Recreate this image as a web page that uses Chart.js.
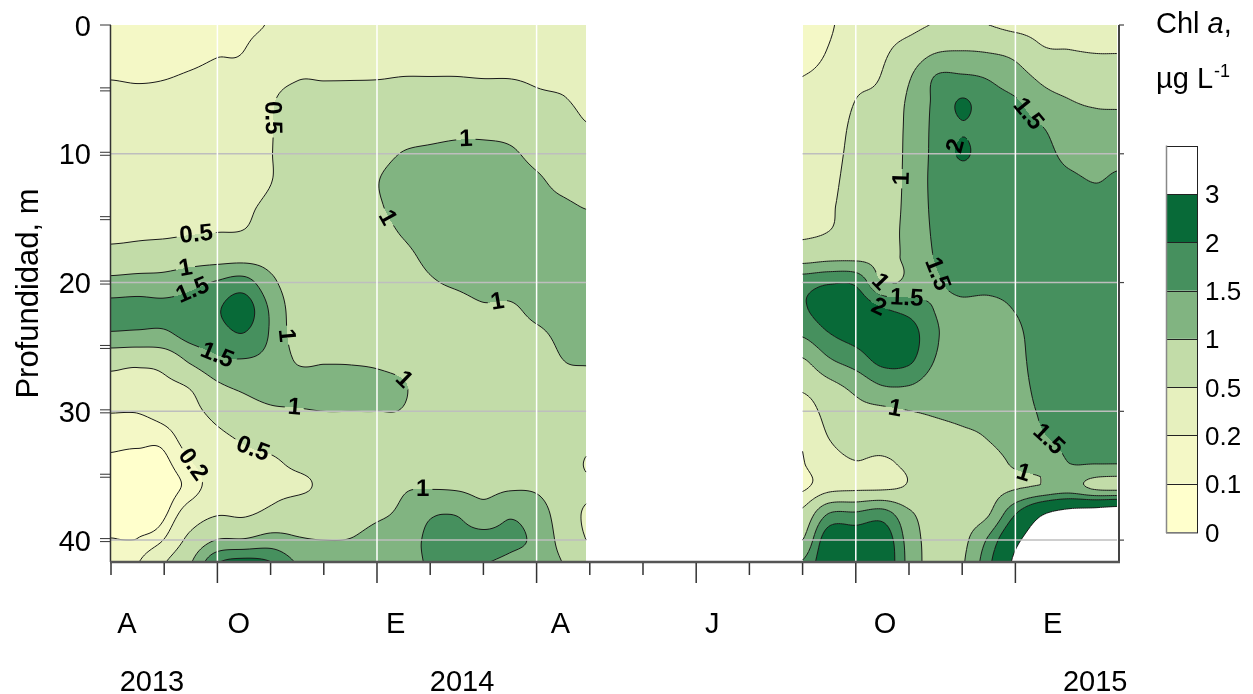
<!DOCTYPE html>
<html>
<head>
<meta charset="utf-8">
<script src="https://cdn.jsdelivr.net/npm/chart.js"></script>
<style>
  html, body { margin: 0; padding: 0; background: #ffffff; }
  #wrap { width: 1253px; height: 694px; position: relative; }
</style>
</head>
<body>
<div id="wrap"><canvas id="c" width="1253" height="694"></canvas></div>
<script>
// Sampling depths (m), shared by every profile
const depths = [0, 2, 4, 6, 8, 10, 12, 14, 16, 18, 20, 22, 24, 26, 28, 30, 32, 34, 36, 38, 40, 42];

// First campaign, Aug 2013 - Apr 2014 (months counted from 1 Aug 2013)
const months1 = [0, 0.5, 1, 1.5, 2, 2.5, 3, 3.5, 4, 4.5, 5, 5.5, 6, 6.5, 7, 7.5, 8, 8.5, 8.93];
// Chl a (µg/L), one profile per date, values at the depths above
const chl1 = [
  [0.15, 0.17, 0.195, 0.24, 0.29, 0.33, 0.38, 0.41, 0.44, 0.62, 1.15, 1.65, 1.45, 0.63, 0.43, 0.21, 0.13, 0.085, 0.06, 0.07, 0.105, 0.2],
  [0.14, 0.16, 0.19, 0.23, 0.28, 0.32, 0.37, 0.41, 0.45, 0.65, 1.2, 1.66, 1.42, 0.6, 0.42, 0.21, 0.13, 0.07, 0.05, 0.06, 0.105, 0.2],
  [0.14, 0.165, 0.195, 0.235, 0.28, 0.32, 0.37, 0.41, 0.44, 0.72, 1.2, 1.62, 1.42, 0.68, 0.42, 0.28, 0.14, 0.08, 0.06, 0.085, 0.21, 0.5],
  [0.14, 0.17, 0.21, 0.25, 0.29, 0.33, 0.37, 0.42, 0.47, 0.78, 1.35, 1.72, 1.68, 1.1, 0.55, 0.4, 0.3, 0.19, 0.14, 0.32, 0.62, 1.0],
  [0.16, 0.19, 0.23, 0.27, 0.31, 0.35, 0.39, 0.43, 0.49, 0.8, 1.55, 1.95, 1.8, 1.42, 0.93, 0.62, 0.43, 0.32, 0.3, 0.48, 1.02, 2.05],
  [0.18, 0.2, 0.25, 0.29, 0.33, 0.37, 0.41, 0.45, 0.51, 0.82, 1.7, 2.25, 1.98, 1.48, 1.1, 0.8, 0.55, 0.42, 0.38, 0.46, 1.05, 2.3],
  [0.22, 0.3, 0.42, 0.48, 0.485, 0.49, 0.49, 0.56, 0.68, 0.82, 1.12, 1.42, 1.45, 1.35, 1.2, 0.93, 0.65, 0.45, 0.42, 0.6, 1.2, 2.1],
  [0.42, 0.46, 0.49, 0.56, 0.6, 0.63, 0.66, 0.69, 0.72, 0.74, 0.76, 0.78, 0.8, 0.96, 1.15, 0.97, 0.75, 0.56, 0.45, 0.75, 1.05, 1.5],
  [0.42, 0.46, 0.49, 0.56, 0.6, 0.63, 0.66, 0.69, 0.72, 0.76, 0.8, 0.84, 0.88, 0.97, 1.15, 1.0, 0.8, 0.6, 0.55, 0.7, 1.0, 1.3],
  [0.42, 0.46, 0.49, 0.57, 0.62, 0.66, 0.7, 0.74, 0.76, 0.78, 0.8, 0.84, 0.88, 0.97, 1.12, 1.0, 0.82, 0.66, 0.62, 0.75, 1.02, 1.3],
  [0.42, 0.46, 0.49, 0.6, 0.72, 0.86, 0.98, 0.96, 0.9, 0.86, 0.82, 0.82, 0.86, 0.94, 1.1, 1.0, 0.85, 0.75, 0.75, 0.92, 1.2, 1.35],
  [0.42, 0.46, 0.5, 0.62, 0.8, 1.02, 1.12, 1.1, 1.03, 0.93, 0.85, 0.8, 0.8, 0.85, 1.03, 0.98, 0.85, 0.88, 0.97, 1.1, 1.25, 1.3],
  [0.42, 0.46, 0.5, 0.65, 0.85, 1.07, 1.15, 1.17, 1.14, 1.07, 0.97, 0.88, 0.82, 0.78, 0.76, 0.76, 0.8, 0.88, 0.99, 1.45, 1.6, 1.55],
  [0.42, 0.46, 0.5, 0.68, 0.9, 1.1, 1.18, 1.2, 1.2, 1.15, 1.04, 0.9, 0.82, 0.78, 0.76, 0.76, 0.8, 0.88, 0.97, 1.48, 1.62, 1.55],
  [0.42, 0.46, 0.49, 0.68, 0.9, 1.1, 1.18, 1.2, 1.2, 1.17, 1.1, 0.97, 0.86, 0.8, 0.77, 0.77, 0.8, 0.86, 0.9, 1.2, 1.65, 1.5],
  [0.42, 0.46, 0.49, 0.66, 0.86, 1.06, 1.16, 1.2, 1.22, 1.2, 1.12, 0.96, 0.88, 0.82, 0.78, 0.78, 0.8, 0.86, 0.97, 1.45, 1.58, 1.4],
  [0.42, 0.45, 0.47, 0.56, 0.72, 0.88, 1.05, 1.12, 1.16, 1.18, 1.16, 1.08, 0.95, 0.86, 0.8, 0.78, 0.78, 0.82, 0.95, 1.25, 1.4, 1.3],
  [0.4, 0.43, 0.46, 0.52, 0.62, 0.74, 0.88, 1.05, 1.12, 1.16, 1.16, 1.12, 1.06, 1.0, 0.9, 0.82, 0.78, 0.74, 0.72, 0.75, 0.82, 1.0],
  [0.38, 0.4, 0.43, 0.46, 0.52, 0.65, 0.8, 0.98, 1.08, 1.14, 1.16, 1.14, 1.1, 1.03, 0.88, 0.75, 0.62, 0.48, 0.56, 0.46, 0.5, 0.6]
];

// Second campaign, Sep 2014 - Feb 2015
const months2 = [13, 13.5, 14, 14.5, 15, 15.5, 16, 16.5, 17, 17.5, 18, 18.5, 18.91];
const chl2 = [
  [0.13, 0.16, 0.2, 0.24, 0.28, 0.32, 0.36, 0.4, 0.44, 0.76, 1.8, 1.95, 1.56, 0.96, 0.59, 0.3, 0.22, 0.19, 0.17, 0.62, 1.0, 1.6],
  [0.18, 0.21, 0.25, 0.29, 0.33, 0.37, 0.41, 0.45, 0.5, 0.85, 1.95, 2.3, 1.98, 1.45, 0.87, 0.65, 0.51, 0.4, 0.4, 1.55, 2.4, 2.5],
  [0.3, 0.36, 0.42, 0.51, 0.58, 0.62, 0.66, 0.7, 0.74, 0.88, 1.9, 2.35, 2.2, 1.75, 1.15, 0.85, 0.66, 0.49, 0.45, 1.6, 2.4, 2.5],
  [0.4, 0.45, 0.52, 0.62, 0.7, 0.76, 0.8, 0.84, 0.88, 0.92, 1.0, 2.02, 2.3, 2.15, 1.5, 0.9, 0.7, 0.45, 0.46, 1.75, 2.4, 2.5],
  [0.42, 0.65, 0.95, 1.08, 1.1, 1.1, 1.1, 1.1, 1.1, 1.08, 1.12, 1.8, 2.25, 2.1, 1.5, 0.99, 0.8, 0.58, 0.55, 1.1, 1.3, 1.35],
  [0.52, 0.95, 1.52, 1.6, 1.62, 1.64, 1.64, 1.62, 1.58, 1.53, 1.45, 1.48, 1.55, 1.48, 1.25, 1.05, 0.85, 0.75, 0.72, 0.76, 0.8, 0.8],
  [0.55, 1.0, 1.55, 2.05, 1.97, 2.05, 1.8, 1.75, 1.7, 1.65, 1.57, 1.45, 1.4, 1.35, 1.25, 1.1, 0.93, 0.8, 0.76, 0.8, 0.88, 0.95],
  [0.5, 0.96, 1.45, 1.7, 1.75, 1.75, 1.72, 1.7, 1.68, 1.65, 1.58, 1.42, 1.35, 1.3, 1.22, 1.12, 1.02, 0.88, 0.85, 0.98, 1.6, 1.9],
  [0.4, 0.85, 1.2, 1.56, 1.68, 1.72, 1.74, 1.74, 1.72, 1.68, 1.62, 1.52, 1.42, 1.38, 1.35, 1.3, 1.2, 1.05, 0.98, 2.0, 2.8, 3.2],
  [0.38, 0.55, 0.9, 1.2, 1.52, 1.65, 1.7, 1.72, 1.74, 1.74, 1.74, 1.72, 1.7, 1.68, 1.62, 1.55, 1.46, 1.2, 1.1, 2.95, 3.6, 3.8],
  [0.38, 0.51, 0.78, 1.03, 1.2, 1.38, 1.58, 1.7, 1.75, 1.76, 1.77, 1.77, 1.77, 1.76, 1.74, 1.7, 1.6, 1.5, 1.25, 3.4, 3.9, 4.0],
  [0.35, 0.48, 0.72, 0.95, 1.16, 1.33, 1.48, 1.62, 1.72, 1.76, 1.77, 1.78, 1.78, 1.77, 1.75, 1.7, 1.6, 1.52, 0.95, 3.6, 4.0, 4.0],
  [0.35, 0.48, 0.7, 0.93, 1.18, 1.38, 1.55, 1.65, 1.72, 1.75, 1.76, 1.77, 1.77, 1.76, 1.74, 1.7, 1.6, 1.52, 0.9, 3.8, 4.0, 4.0]
];

// Contour levels and the fill of each band [level i, level i+1)
const levels = [0, 0.1, 0.2, 0.5, 1, 1.5, 2, 3];
const bandColors = ['#FFFFCC', '#F4F8C6', '#E6F0BE', '#C2DCA8', '#81B481', '#46905E', '#086A38', '#FFFFFF'];
const levelLabels = ['0', '0.1', '0.2', '0.5', '1', '1.5', '2', '3'];

// Axis ticks and labels
const depthTicks = [0, 10, 20, 30, 40];
const depthMinorTicks = [5, 15, 25, 35];
const monthTicks = [0, 1, 2, 3, 4, 5, 6, 7, 8, 9, 10, 11, 12, 13, 14, 15, 16, 17];
const quarterTicks = [2, 5, 8, 11, 14, 17];
const monthLabels = ['A', 'O', 'E', 'A', 'J', 'O', 'E'];
const monthLabelAt = [0.3, 2.4, 5.35, 8.45, 11.3, 14.55, 17.7];
const yearLabels = ['2013', '2014', '2015'];
const yearLabelAt = [0.77, 6.6, 18.5];
const gridDepths = [10, 20, 30, 40];
const gridMonths = [2, 5, 8, 14, 17];

// Inline contour labels: level and the approximate (month, depth) where each sits
const contourTags = [
  { level: 0.5, m: 3.05, d: 7.2 }, { level: 1, m: 6.67, d: 8.8 }, { level: 1, m: 5.15, d: 15.1 },
  { level: 0.5, m: 1.6, d: 16.6 }, { level: 1, m: 1.4, d: 19.0 }, { level: 1.5, m: 1.55, d: 20.8 },
  { level: 1, m: 3.25, d: 24.1 }, { level: 1.5, m: 2.0, d: 25.6 }, { level: 1, m: 7.3, d: 21.6 },
  { level: 1, m: 5.55, d: 27.5 }, { level: 1, m: 3.45, d: 29.8 }, { level: 0.5, m: 2.67, d: 32.8 },
  { level: 0.2, m: 1.55, d: 34.2 }, { level: 1, m: 5.86, d: 36.3 },
  { level: 1.5, m: 17.27, d: 6.8 }, { level: 2, m: 15.7, d: 9.3 }, { level: 1, m: 14.7, d: 11.7 },
  { level: 1.5, m: 15.45, d: 19.4 }, { level: 1, m: 14.45, d: 20.0 }, { level: 2, m: 14.4, d: 22.1 },
  { level: 1.5, m: 14.9, d: 21.7 }, { level: 1, m: 14.74, d: 29.9 }, { level: 1.5, m: 17.52, d: 32.6 },
  { level: 1, m: 17.1, d: 35.2 }
];

const campaigns = [
  { months: months1, profiles: chl1 },
  { months: months2, profiles: chl2 }
];

const FONT = '"Liberation Sans", Arial, sans-serif';
const TAG_FONT = 'bold 24px ' + FONT;

function findCell(arr, v) {
  let i = 0;
  while (i < arr.length - 2 && v > arr[i + 1]) i++;
  return i;
}
function clamp01(t) { return t < 0 ? 0 : (t > 1 ? 1 : t); }
function catmull(p0, p1, p2, p3, t) {
  return 0.5 * (2 * p1 + (-p0 + p2) * t + (2 * p0 - 5 * p1 + 4 * p2 - p3) * t * t + (-p0 + 3 * p1 - 3 * p2 + p3) * t * t * t);
}
function campaignAt(m) {
  for (const c of campaigns) {
    if (m >= c.months[0] && m <= c.months[c.months.length - 1]) return c;
  }
  return null;
}
// Smooth interpolation of the profiles, kept within the range of the enclosing cell
function chlAt(c, m, d) {
  const M = c.months, P = c.profiles;
  const i = findCell(M, m), j = findCell(depths, d);
  const tx = clamp01((m - M[i]) / (M[i + 1] - M[i]));
  const ty = clamp01((d - depths[j]) / (depths[j + 1] - depths[j]));
  const nR = depths.length;
  const q = [];
  for (let a = -1; a <= 2; a++) {
    const prof = P[Math.max(0, Math.min(P.length - 1, i + a))];
    const r = k => prof[Math.max(0, Math.min(nR - 1, k))];
    q.push(catmull(r(j - 1), r(j), r(j + 1), r(j + 2), ty));
  }
  const v = catmull(q[0], q[1], q[2], q[3], tx);
  const c00 = P[i][j], c01 = P[i][j + 1], c10 = P[i + 1][j], c11 = P[i + 1][j + 1];
  const lo = Math.min(c00, c01, c10, c11), hi = Math.max(c00, c01, c10, c11);
  return Math.min(hi, Math.max(lo, v));
}
function bandIndex(v) {
  for (let i = levels.length - 1; i >= 0; i--) if (v >= levels[i]) return i;
  return 0;
}
function hexToRgb(h) {
  return [parseInt(h.slice(1, 3), 16), parseInt(h.slice(3, 5), 16), parseInt(h.slice(5, 7), 16)];
}

const EDGE_CASES = {
  1: [['L', 'B']], 2: [['B', 'R']], 3: [['L', 'R']], 4: [['T', 'R']], 5: [['L', 'T'], ['B', 'R']],
  6: [['T', 'B']], 7: [['L', 'T']], 8: [['L', 'T']], 9: [['T', 'B']], 10: [['T', 'R'], ['L', 'B']],
  11: [['T', 'R']], 12: [['L', 'R']], 13: [['B', 'R']], 14: [['L', 'B']]
};

const chlPlugin = {
  id: 'chlSection',
  afterDraw(chart) {
    const { ctx, chartArea: a, scales: { x, y } } = chart;
    const W = Math.round(a.right - a.left), H = Math.round(a.bottom - a.top);

    // ---- filled bands
    const off = document.createElement('canvas');
    off.width = W; off.height = H;
    const octx = off.getContext('2d');
    const img = octx.createImageData(W, H);
    const rgb = bandColors.map(hexToRgb);
    const rowD = [];
    for (let py = 0; py < H; py++) rowD.push(y.getValueForPixel(a.top + py + 0.5));
    for (let px = 0; px < W; px++) {
      const m = x.getValueForPixel(a.left + px + 0.5);
      const c = campaignAt(m);
      if (!c) continue;
      for (let py = 0; py < H; py++) {
        const col = rgb[bandIndex(chlAt(c, m, rowD[py]))];
        const k = (py * W + px) * 4;
        img.data[k] = col[0]; img.data[k + 1] = col[1]; img.data[k + 2] = col[2]; img.data[k + 3] = 255;
      }
    }
    octx.putImageData(img, 0, 0);
    ctx.drawImage(off, a.left, a.top);

    // ---- label placement on the contour of its level
    ctx.font = TAG_FONT;
    const placed = [];
    for (const tag of contourTags) {
      const c = campaignAt(tag.m);
      if (!c) continue;
      const mMin = c.months[0], mMax = c.months[c.months.length - 1];
      const f = (px, py) => {
        const m = Math.min(mMax, Math.max(mMin, x.getValueForPixel(px)));
        const d = Math.min(41.7, Math.max(0, y.getValueForPixel(py)));
        return chlAt(c, m, d) - tag.level;
      };
      const cx = x.getPixelForValue(tag.m), cy = y.getPixelForValue(tag.d);
      const R = 22;
      let best = null, bestDist = Infinity;
      for (let dy = -R; dy <= R; dy++) {
        for (let dx = -R; dx <= R; dx++) {
          const px = cx + dx, py = cy + dy;
          const v = f(px, py), vr = f(px + 1, py), vb = f(px, py + 1);
          if ((v >= 0) !== (vr >= 0) || (v >= 0) !== (vb >= 0)) {
            const dist = Math.hypot(dx, dy);
            if (dist < bestDist) { bestDist = dist; best = [px, py]; }
          }
        }
      }
      if (!best) continue;
      const [px, py] = best;
      const gx = f(px + 3, py) - f(px - 3, py), gy = f(px, py + 3) - f(px, py - 3);
      let ang = Math.atan2(gy, gx) + Math.PI / 2;
      while (ang >= Math.PI / 2) ang -= Math.PI;
      while (ang < -Math.PI / 2) ang += Math.PI;
      const text = String(tag.level);
      const w = ctx.measureText(text).width;
      placed.push({ px, py, ang, text, hw: w / 2 + 3, hh: 11 });
    }

    // ---- contour lines, broken where labels sit
    ctx.save();
    ctx.beginPath();
    ctx.rect(a.left, a.top, a.right - a.left, a.bottom - a.top);
    for (const p of placed) {
      const cs = Math.cos(p.ang), sn = Math.sin(p.ang);
      const pts = [[-p.hw, -p.hh], [p.hw, -p.hh], [p.hw, p.hh], [-p.hw, p.hh]].map(([u, v]) => [p.px + u * cs - v * sn, p.py + u * sn + v * cs]);
      ctx.moveTo(pts[0][0], pts[0][1]);
      for (let k = 1; k < 4; k++) ctx.lineTo(pts[k][0], pts[k][1]);
      ctx.closePath();
    }
    ctx.clip('evenodd');
    ctx.strokeStyle = '#1a1a1a';
    ctx.lineWidth = 1;
    const s = 2;
    for (const c of campaigns) {
      const M = c.months;
      const px0 = x.getPixelForValue(M[0]), px1 = x.getPixelForValue(M[M.length - 1]);
      const xs = [], ys = [];
      for (let p = px0; p < px1; p += s) xs.push(p);
      xs.push(px1);
      for (let p = a.top; p < a.bottom; p += s) ys.push(p);
      ys.push(a.bottom);
      const g = xs.map(px => {
        const m = Math.min(M[M.length - 1], Math.max(M[0], x.getValueForPixel(px)));
        return ys.map(py => chlAt(c, m, Math.min(41.7, Math.max(0, y.getValueForPixel(py)))));
      });
      for (let li = 1; li < levels.length; li++) {
        const L = levels[li];
        ctx.beginPath();
        for (let i = 0; i < xs.length - 1; i++) {
          for (let j = 0; j < ys.length - 1; j++) {
            const v0 = g[i][j], v1 = g[i + 1][j], v2 = g[i + 1][j + 1], v3 = g[i][j + 1];
            const idx = (v0 >= L ? 8 : 0) | (v1 >= L ? 4 : 0) | (v2 >= L ? 2 : 0) | (v3 >= L ? 1 : 0);
            if (idx === 0 || idx === 15) continue;
            const x0 = xs[i], x1 = xs[i + 1], y0 = ys[j], y1 = ys[j + 1];
            const pt = e => {
              if (e === 'T') return [x0 + (x1 - x0) * (L - v0) / (v1 - v0), y0];
              if (e === 'R') return [x1, y0 + (y1 - y0) * (L - v1) / (v2 - v1)];
              if (e === 'B') return [x0 + (x1 - x0) * (L - v3) / (v2 - v3), y1];
              return [x0, y0 + (y1 - y0) * (L - v0) / (v3 - v0)];
            };
            for (const [e1, e2] of EDGE_CASES[idx]) {
              const p1 = pt(e1), p2 = pt(e2);
              ctx.moveTo(p1[0], p1[1]);
              ctx.lineTo(p2[0], p2[1]);
            }
          }
        }
        ctx.stroke();
      }
    }
    ctx.restore();

    // ---- grid lines over the sampled blocks
    ctx.save();
    for (const c of campaigns) {
      const M = c.months;
      const px0 = x.getPixelForValue(M[0]), px1 = x.getPixelForValue(M[M.length - 1]);
      ctx.strokeStyle = '#BEBEBE';
      ctx.lineWidth = 1.5;
      for (const d of gridDepths) {
        const py = y.getPixelForValue(d);
        ctx.beginPath(); ctx.moveTo(px0, py); ctx.lineTo(px1, py); ctx.stroke();
      }
      ctx.strokeStyle = '#FFFFFF';
      for (const m of gridMonths) {
        if (m <= M[0] || m >= M[M.length - 1]) continue;
        const px = x.getPixelForValue(m);
        ctx.beginPath(); ctx.moveTo(px, a.top); ctx.lineTo(px, a.bottom); ctx.stroke();
      }
    }
    ctx.restore();

    // ---- contour labels
    ctx.save();
    ctx.fillStyle = '#000';
    ctx.font = TAG_FONT;
    ctx.textAlign = 'center';
    ctx.textBaseline = 'middle';
    for (const p of placed) {
      ctx.save();
      ctx.translate(p.px, p.py);
      ctx.rotate(p.ang);
      ctx.fillText(p.text, 0, 1);
      ctx.restore();
    }
    ctx.restore();

    // ---- axes
    ctx.save();
    const xL = x.getPixelForValue(0), xR = x.getPixelForValue(18.91);
    const yT = y.getPixelForValue(0), yB = y.getPixelForValue(41.7);
    // left axis
    ctx.strokeStyle = '#333';
    ctx.lineWidth = 1.5;
    ctx.beginPath(); ctx.moveTo(xL - 0.5, yT); ctx.lineTo(xL - 0.5, yB); ctx.stroke();
    ctx.lineWidth = 1;
    for (const d of depthTicks.concat(depthMinorTicks)) {
      const py = y.getPixelForValue(d);
      const offs = d === 0 ? [0] : [-1.5, 1.5];
      for (const o of offs) {
        ctx.beginPath(); ctx.moveTo(xL - 11, py + o); ctx.lineTo(xL, py + o); ctx.stroke();
      }
    }
    // right axis
    ctx.strokeStyle = '#444';
    ctx.lineWidth = 2;
    ctx.beginPath(); ctx.moveTo(xR + 2, yT); ctx.lineTo(xR + 2, yB + 1); ctx.stroke();
    ctx.lineWidth = 1.2;
    for (const d of depthTicks) {
      const py = y.getPixelForValue(d);
      ctx.beginPath(); ctx.moveTo(xR + 2, py); ctx.lineTo(xR + 7, py); ctx.stroke();
    }
    // bottom axis
    ctx.strokeStyle = '#555';
    ctx.lineWidth = 2.5;
    ctx.beginPath(); ctx.moveTo(xL - 1, yB); ctx.lineTo(xR + 3, yB); ctx.stroke();
    ctx.strokeStyle = '#333';
    ctx.lineWidth = 1.5;
    for (const m of monthTicks) {
      const px = x.getPixelForValue(m);
      const len = quarterTicks.includes(m) ? 21 : 13;
      ctx.beginPath(); ctx.moveTo(px, yB + 1); ctx.lineTo(px, yB + len); ctx.stroke();
    }
    // tick labels
    ctx.fillStyle = '#000';
    ctx.font = '29px ' + FONT;
    ctx.textAlign = 'right';
    ctx.textBaseline = 'alphabetic';
    for (const d of depthTicks) {
      ctx.fillText(String(d), xL - 20, y.getPixelForValue(d) + 10.5);
    }
    ctx.textAlign = 'center';
    monthLabels.forEach((t, k) => ctx.fillText(t, x.getPixelForValue(monthLabelAt[k]), 633));
    yearLabels.forEach((t, k) => ctx.fillText(t, x.getPixelForValue(yearLabelAt[k]), 691));
    // axis title
    ctx.save();
    ctx.font = '31px ' + FONT;
    ctx.translate(38, (yT + yB) / 2);
    ctx.rotate(-Math.PI / 2);
    ctx.textAlign = 'center';
    ctx.fillText('Profundidad, m', 0, 0);
    ctx.restore();
    ctx.restore();

    // ---- colour key
    ctx.save();
    const kx = 1166, kw = 31, kBottom = 532, kStep = 48.3;
    for (let i = 0; i < bandColors.length; i++) {
      const yBot = kBottom - i * kStep;
      ctx.fillStyle = bandColors[i];
      ctx.fillRect(kx, yBot - kStep, kw, kStep);
    }
    ctx.strokeStyle = '#222';
    ctx.lineWidth = 1;
    for (let i = 1; i < bandColors.length; i++) {
      const yy = Math.round(kBottom - i * kStep) + 0.5;
      ctx.beginPath(); ctx.moveTo(kx, yy); ctx.lineTo(kx + kw, yy); ctx.stroke();
    }
    ctx.strokeRect(kx + 0.5, Math.round(kBottom - bandColors.length * kStep) + 0.5, kw, bandColors.length * kStep);
    ctx.strokeStyle = '#888';
    ctx.lineWidth = 1.5;
    ctx.beginPath(); ctx.moveTo(kx + 0.5, kBottom - bandColors.length * kStep); ctx.lineTo(kx + 0.5, kBottom + 1); ctx.stroke();
    ctx.fillStyle = '#000';
    ctx.font = '26px ' + FONT;
    ctx.textAlign = 'left';
    ctx.textBaseline = 'alphabetic';
    levelLabels.forEach((t, i) => ctx.fillText(t, kx + 39, kBottom - i * kStep + 9.5));
    // key title
    ctx.font = '29px ' + FONT;
    let tx = 1156;
    ctx.fillText('Chl ', tx, 33); tx += ctx.measureText('Chl ').width;
    ctx.font = 'italic 29px ' + FONT;
    ctx.fillText('a', tx, 33); tx += ctx.measureText('a').width;
    ctx.font = '29px ' + FONT;
    ctx.fillText(',', tx, 33);
    tx = 1156;
    ctx.fillText('\u00B5g L', tx, 88); tx += ctx.measureText('\u00B5g L').width;
    ctx.font = '18px ' + FONT;
    ctx.fillText('-1', tx + 1, 77);
    ctx.restore();
  }
};

new Chart(document.getElementById('c'), {
  type: 'scatter',
  data: { datasets: [] },
  options: {
    responsive: false,
    animation: false,
    devicePixelRatio: 1,
    layout: { padding: { left: 111, top: 25, right: 136, bottom: 132 } },
    scales: {
      x: { type: 'linear', display: false, min: 0, max: 18.91 },
      y: { type: 'linear', display: false, reverse: true, min: 0, max: 41.7 }
    },
    plugins: { legend: { display: false }, tooltip: { enabled: false } }
  },
  plugins: [chlPlugin]
});
</script>
</body>
</html>
